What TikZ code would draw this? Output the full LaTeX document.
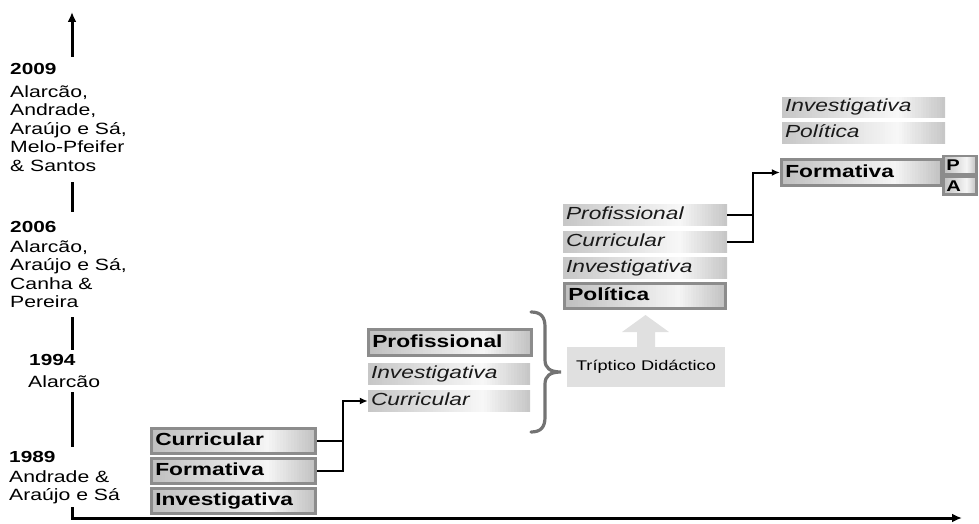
\documentclass[tikz,border=0pt]{standalone}
\usepackage{fontspec}
\usetikzlibrary{arrows.meta,calc}
\newfontfamily\lbl{Liberation Sans}[FakeStretch=1.3]
\definecolor{rim}{HTML}{8C8C8C}
\definecolor{pale}{HTML}{E0E0E0}
% horizontal grey gradient: left / peak (at 70% of the width) / right, in percent of black
\tikzset{
  grad/.style n args={3}{path picture={
    \foreach \k in {0,...,59}{
      \pgfmathsetmacro\gv{\k<42 ? #1+(#2-#1)*\k/42 : #2+(#3-#2)*(\k-42)/17}
      \pgfmathsetmacro\ta{\k/60}
      \pgfmathsetmacro\tb{(\k+1.4)/60}
      \fill[black!\gv]
        ($(path picture bounding box.north west)!\ta!(path picture bounding box.north east)$)
        rectangle
        ($(path picture bounding box.south west)!\tb!(path picture bounding box.south east)$);
    }}},
}
\begin{document}
\begin{tikzpicture}[x=1pt,y=-1pt,
  names/.style={inner sep=0pt, anchor=north west, align=left,
    font=\lbl\fontsize{16.3}{18.5}\selectfont, text=black},
  yr/.style={inner sep=0pt, anchor=base west,
    font=\lbl\bfseries\fontsize{16}{18}\selectfont},
  strongbox/.style={draw=rim, line width=2.8pt, inner xsep=4pt, inner ysep=0pt,
    grad={25}{4}{24},
    align=left, text height=12.5pt, text depth=3pt,
    font=\lbl\bfseries\fontsize{17.5}{19}\selectfont},
  softbox/.style={inner xsep=3pt, inner ysep=0pt,
    grad={22}{3}{22},
    align=left, text height=12.5pt, text depth=3.5pt, text=black!90,
    font=\lbl\itshape\fontsize{17.5}{19}\selectfont},
  axis/.style={line width=3pt, black},
  conn/.style={line width=2pt, black},
  tip/.style={-{Latex[length=8pt,width=7pt]}},
  bigtip/.style={-{Latex[length=10pt,width=9pt]}},
]
\useasboundingbox (0,0) rectangle (979,524);

% ---- time axis ----
\coordinate (top) at (72,12);
\coordinate (s1) at (72,57);
\coordinate (s2a) at (72,182);
\coordinate (s2b) at (72,212);
\coordinate (s3a) at (72,317);
\coordinate (s3b) at (72,350);
\coordinate (s4a) at (72,392);
\coordinate (s4b) at (72,447);
\coordinate (s5) at (72,507);
\coordinate (corner) at (72,518);
\coordinate (xend) at (962,518);
\draw[axis,bigtip] (s1) -- (top);
\draw[axis] (s2a) -- (s2b);
\draw[axis] (s3a) -- (s3b);
\draw[axis] (s4a) -- (s4b);
\draw[axis,bigtip] (s5) -- (corner) -- (xend);

% ---- years and authors ----
\node[yr] (y2009) at (10,75) {2009};
\node[names] (n2009) at (10,84.5) {\rule{0pt}{12.5pt}Alarcão,\\Andrade,\\Araújo e Sá,\\Melo-Pfeifer\\\& Santos};
\node[yr] (y2006) at (10,232) {2006};
\node[names] (n2006) at (10,239.5) {\rule{0pt}{12.5pt}Alarcão,\\Araújo e Sá,\\Canha \&\\Pereira};
\node[yr] (y1994) at (29,365) {1994};
\node[names] (n1994) at (28,374.5) {\rule{0pt}{12.5pt}Alarcão};
\node[yr] (y1989) at (9,462) {1989};
\node[names] (n1989) at (9,469.5) {\rule{0pt}{12.5pt}Andrade \&\\Araújo e Sá};

% ---- 1989 ----
\node[strongbox, text width=156.5pt, minimum height=25.5pt] (cur1) at (233.5,441) {Curricular};
\node[strongbox, text width=156.5pt, minimum height=25.5pt] (for1) at (233.5,471) {Formativa};
\node[strongbox, text width=156.5pt, minimum height=25.5pt] (inv1) at (233.5,501) {Investigativa};

% ---- 1994 ----
\node[strongbox, text width=155.5pt, minimum height=26.5pt] (pro2) at (450,342.5) {Profissional};
\node[softbox, text width=156pt, minimum height=22pt] (inv2) at (449,374) {Investigativa};
\node[softbox, text width=156pt, minimum height=22pt] (cur2) at (449,401) {Curricular};

\coordinate (j1) at (343,401);
\draw[conn] (cur1.east) -- (j1 |- cur1.east);
\draw[conn,tip] (for1.east) -| (j1) -- (cur2.west);

% brace grouping the 1994 triad
\draw[black!55, line width=3.2pt, line cap=round]
  (531,312) .. controls (541,312) and (545,317) .. (545,327)
  -- (545,360) .. controls (545,368) and (550,372) .. (561,372)
  .. controls (550,372) and (545,376) .. (545,384)
  -- (545,417) .. controls (545,427) and (541,432) .. (531,432);

\node[fill=pale, minimum width=158pt, minimum height=40pt, inner sep=0pt,
  font=\lbl\fontsize{14}{16}\selectfont, text=black] (trip) at (646,367) {Tríptico Didáctico};
\fill[pale] (637,347) -- (637,332) -- (622,332) -- (645.5,315) -- (669,332)
  -- (655,332) -- (655,347) -- cycle;

% ---- 2006 ----
\node[softbox, text width=158pt, minimum height=22pt] (pro3) at (645,215) {Profissional};
\node[softbox, text width=158pt, minimum height=22pt] (cur3) at (645,242) {Curricular};
\node[softbox, text width=158pt, minimum height=22pt] (inv3) at (645,268) {Investigativa};
\node[strongbox, text width=153.5pt, minimum height=25.5pt] (pol3) at (645,296) {Política};

% ---- 2009 ----
\node[softbox, text width=157pt, minimum height=21pt] (inv4) at (863.5,107.5) {Investigativa};
\node[softbox, text width=157pt, minimum height=21pt] (pol4) at (863.5,133) {Política};
\node[strongbox, text width=152.5pt, minimum height=26.5pt] (for4) at (861.5,172.5) {Formativa};
\node[strongbox, inner xsep=3pt, text width=27.5pt, minimum height=18pt,
  text height=11pt, text depth=0pt, font=\lbl\bfseries\fontsize{15.5}{16}\selectfont] (p4) at (960,165) {P};
\node[strongbox, inner xsep=3pt, text width=27.5pt, minimum height=18.5pt,
  text height=11pt, text depth=0pt, font=\lbl\bfseries\fontsize{15.5}{16}\selectfont] (a4) at (960,185.5) {A};

\coordinate (j2) at (753,172.5);
\draw[conn] (pro3.east) -- (j2 |- pro3.east);
\draw[conn,tip] (cur3.east) -| (j2) -- (for4.west);
\end{tikzpicture}
\end{document}
